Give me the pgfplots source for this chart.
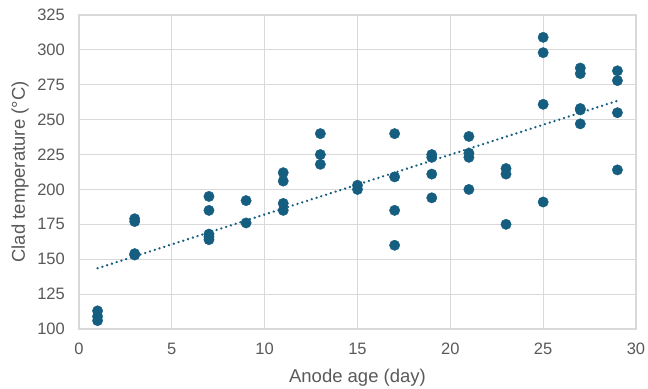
\documentclass[border=0pt]{standalone}
\usepackage{pgfplots}
\pgfplotsset{compat=1.18}
\usepackage{fontspec}
\setmainfont{Liberation Sans}
\definecolor{txt}{RGB}{89,89,89}
\definecolor{gridc}{RGB}{217,217,217}
\definecolor{dot}{RGB}{21,94,128}
\begin{document}
\begin{tikzpicture}
\path[use as bounding box] (-79bp,-60bp) rectangle (569bp,329bp);
\begin{axis}[
  at={(0,0)}, anchor=south west,
  width=557bp, height=314bp, scale only axis,
  xmin=0, xmax=30, ymin=100, ymax=325,
  xtick={0,5,...,30}, ytick={100,125,...,325},
  grid=major,
  major grid style={gridc, line width=1.1bp},
  axis line style={gridc, line width=1.1bp},
  tick style={draw=none},
  ticklabel style={font=\fontsize{16.5bp}{18bp}\selectfont, text=txt, inner sep=0pt},
  /pgf/number format/assume math mode=true,
  xticklabel style={anchor=north, yshift=-14bp},
  yticklabel style={anchor=east, xshift=-14bp},
  xlabel={Anode age (day)},
  ylabel={Clad temperature (°C)},
  label style={font=\fontsize{18.5bp}{20bp}\selectfont, text=txt, inner sep=0pt},
  xlabel style={at={(axis description cs:0.5,-0.156)}, anchor=center},
  ylabel style={at={(axis description cs:-0.1059,0.5)}, anchor=center},
  clip=false,
]
\addplot[only marks, mark=*, mark size=5.2bp, mark options={draw=dot, fill=dot}] coordinates {
(1,113) (1,109) (1,106)
(3,179) (3,177) (3,153) (3,154)
(7,195) (7,185) (7,168) (7,166) (7,164)
(9,192) (9,176)
(11,212) (11,206) (11,190) (11,185)
(13,240) (13,225) (13,218)
(15,203) (15,200)
(17,240) (17,209) (17,185) (17,160)
(19,225) (19,223) (19,211) (19,194)
(21,238) (21,226) (21,223) (21,200)
(23,215) (23,211) (23,175)
(25,309) (25,298) (25,261) (25,191)
(27,287) (27,283) (27,258) (27,257) (27,247)
(29,285) (29,278) (29,255) (29,214)
};
\addplot[dot, line width=2.5bp, line cap=round, dash pattern=on 0.1bp off 4.9bp] coordinates {(1,143.5) (29,263.5)};
\end{axis}
\end{tikzpicture}
\end{document}
